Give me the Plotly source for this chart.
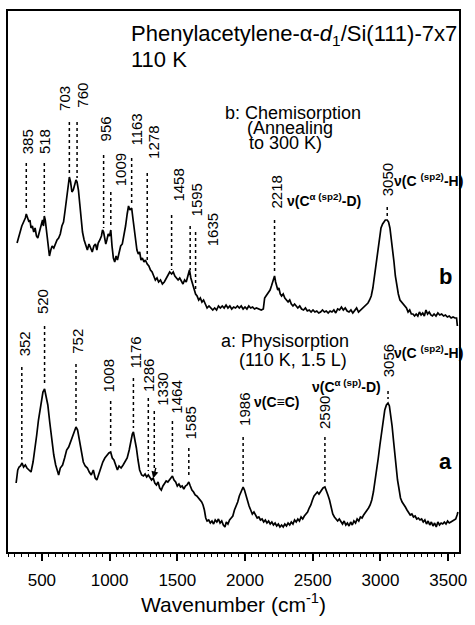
import numpy as np
import plotly.graph_objects as go

# ---------------- data ----------------
# b: Chemisorption (annealing to 300 K)  -- wavenumber (cm-1), intensity (arb.)
b_wn = [317, 330, 340, 352, 365, 378, 385, 395, 405, 412, 420, 430, 440, 450, 460, 470, 478, 488, 498, 505,
        512, 518, 525, 532, 540, 548, 556, 566, 576, 588, 600, 612, 624, 636, 648, 660, 672, 684, 694, 703,
        712, 722, 732, 742, 752, 760, 770, 780, 790, 800, 812, 824, 836, 848, 860, 872, 884, 896, 906, 916,
        928, 940, 948, 956, 964, 972, 980, 990, 1000, 1009, 1018, 1028, 1038, 1048, 1058, 1070, 1082, 1094, 1106, 1118,
        1130, 1140, 1150, 1163, 1172, 1182, 1192, 1202, 1212, 1222, 1232, 1242, 1254, 1264, 1278, 1290, 1302, 1314, 1326, 1338,
        1350, 1362, 1376, 1390, 1404, 1418, 1430, 1444, 1458, 1470, 1482, 1494, 1506, 1518, 1530, 1542, 1554, 1566, 1578, 1590,
        1600, 1612, 1622, 1635, 1646, 1658, 1670, 1682, 1694, 1708, 1720, 1734, 1748, 1762, 1776, 1790, 1804, 1818, 1832, 1846,
        1860, 1874, 1888, 1902, 1916, 1930, 1944, 1958, 1972, 1986, 2000, 2014, 2028, 2042, 2056, 2070, 2084, 2100, 2120, 2135,
        2145, 2155, 2165, 2175, 2185, 2195, 2205, 2212, 2218, 2226, 2234, 2242, 2250, 2260, 2270, 2282, 2294, 2306, 2318, 2330,
        2342, 2354, 2366, 2378, 2390, 2404, 2418, 2432, 2446, 2460, 2474, 2488, 2502, 2516, 2530, 2544, 2558, 2572, 2586, 2600,
        2614, 2628, 2642, 2656, 2670, 2684, 2698, 2712, 2726, 2740, 2754, 2768, 2782, 2796, 2810, 2824, 2838, 2852, 2866, 2880,
        2894, 2908, 2920, 2932, 2944, 2956, 2968, 2980, 2992, 3004, 3016, 3026, 3036, 3050, 3060, 3070, 3080, 3090, 3100, 3110,
        3120, 3132, 3144, 3156, 3168, 3180, 3192, 3204, 3216, 3228, 3240, 3252, 3264, 3276, 3288, 3300, 3312, 3324, 3336, 3348,
        3360, 3372, 3384, 3396, 3410, 3424, 3438, 3452, 3466, 3480, 3494, 3508, 3522, 3536, 3550, 3562, 3568]
b_int = [317, 324, 330, 334, 338, 342, 346, 342, 338, 340, 332, 334, 328, 332, 324, 322, 326, 332, 336, 340,
         334, 344, 340, 332, 324, 310, 304, 310, 314, 312, 316, 320, 322, 326, 334, 338, 350, 364, 374, 383,
         378, 368, 370, 376, 380, 378, 370, 356, 342, 328, 320, 314, 310, 316, 312, 308, 314, 316, 310, 317,
         320, 324, 330, 328, 322, 316, 320, 326, 324, 330, 314, 302, 298, 304, 300, 308, 314, 316, 324, 334,
         346, 354, 350, 352, 342, 330, 316, 310, 306, 308, 300, 302, 298, 300, 296, 294, 290, 288, 284, 280,
         282, 278, 280, 276, 278, 282, 284, 288, 286, 288, 284, 282, 280, 282, 278, 276, 280, 278, 284, 290,
         282, 276, 270, 266, 264, 260, 262, 258, 260, 256, 252, 254, 252, 250, 252, 250, 254, 252, 254, 252,
         255, 252, 254, 251, 253, 252, 254, 252, 254, 251, 253, 251, 254, 252, 253, 251, 252, 251, 250, 251,
         262, 264, 266, 268, 270, 274, 278, 282, 284, 278, 272, 270, 272, 266, 264, 266, 262, 260, 258, 260,
         256, 254, 256, 254, 252, 254, 251, 250, 252, 249, 250, 248, 250, 248, 249, 247, 248, 250, 248, 249,
         247, 249, 248, 250, 247, 251, 250, 253, 250, 252, 249, 248, 250, 247, 249, 252, 248, 250, 251, 253,
         255, 257, 260, 264, 272, 284, 298, 312, 324, 332, 336, 338, 340, 340, 338, 332, 322, 310, 298, 284,
         274, 266, 260, 258, 256, 254, 252, 248, 250, 246, 246, 244, 246, 244, 248, 245, 247, 244, 250, 246,
         248, 245, 244, 246, 244, 247, 245, 246, 244, 245, 243, 244, 242, 243, 242, 242, 234]

# a: Physisorption (110 K, 1.5 L)
a_wn = [310, 322, 332, 342, 354, 365, 378, 390, 405, 420, 435, 449, 462, 475, 485, 497, 508, 520, 530, 544,
        558, 573, 588, 602, 614, 624, 636, 653, 668, 683, 698, 712, 726, 740, 752, 764, 778, 792, 806, 820,
        836, 850, 865, 880, 894, 906, 920, 935, 950, 965, 980, 995, 1008, 1020, 1032, 1045, 1058, 1070, 1085, 1100,
        1115, 1130, 1145, 1158, 1168, 1176, 1186, 1198, 1210, 1222, 1237, 1250, 1262, 1274, 1286, 1298, 1310, 1322, 1334, 1346,
        1358, 1370, 1382, 1394, 1406, 1418, 1430, 1442, 1454, 1464, 1476, 1488, 1500, 1512, 1524, 1536, 1548, 1560, 1572, 1585,
        1596, 1608, 1620, 1632, 1644, 1656, 1668, 1680, 1690, 1700, 1710, 1720, 1732, 1744, 1756, 1768, 1780, 1792, 1804, 1816,
        1828, 1840, 1852, 1862, 1874, 1886, 1898, 1910, 1922, 1934, 1946, 1958, 1968, 1978, 1986, 1996, 2006, 2018, 2030, 2042,
        2054, 2066, 2078, 2090, 2102, 2114, 2126, 2138, 2150, 2162, 2174, 2186, 2198, 2210, 2222, 2234, 2246, 2258, 2270, 2282,
        2294, 2306, 2318, 2330, 2342, 2354, 2366, 2378, 2390, 2402, 2414, 2426, 2438, 2450, 2462, 2474, 2486, 2498, 2510, 2522,
        2534, 2546, 2556, 2566, 2576, 2590, 2600, 2612, 2624, 2636, 2648, 2660, 2672, 2684, 2696, 2708, 2720, 2732, 2744, 2756,
        2768, 2780, 2792, 2804, 2816, 2828, 2840, 2852, 2864, 2876, 2888, 2900, 2912, 2924, 2936, 2948, 2960, 2972, 2984, 2996,
        3008, 3020, 3032, 3044, 3056, 3066, 3076, 3086, 3096, 3106, 3116, 3126, 3136, 3148, 3160, 3172, 3184, 3196, 3208, 3220,
        3232, 3244, 3256, 3268, 3280, 3292, 3304, 3316, 3328, 3340, 3352, 3364, 3376, 3388, 3400, 3412, 3424, 3436, 3448, 3460,
        3472, 3484, 3496, 3508, 3520, 3532, 3544, 3556, 3566, 3572]
a_int = [77, 90, 93, 94, 97, 93, 95, 92, 90, 88, 98, 110, 125, 140, 150, 162, 168, 171, 164, 155,
         138, 120, 105, 95, 90, 85, 92, 95, 102, 110, 113, 118, 124, 128, 133, 130, 120, 108, 98, 94,
         92, 88, 85, 90, 82, 80, 86, 92, 98, 102, 105, 107, 108, 102, 100, 94, 90, 94, 92, 95,
         98, 102, 110, 120, 126, 128, 122, 112, 100, 90, 85, 84, 86, 83, 85, 82, 80, 82, 77, 75,
         78, 72, 70, 74, 76, 79, 78, 80, 82, 84, 80, 78, 74, 76, 73, 74, 71, 74, 75, 78,
         74, 70, 68, 65, 64, 62, 60, 58, 55, 50, 42, 39, 40, 37, 39, 36, 40, 38, 41, 37,
         39, 35, 33, 38, 36, 40, 42, 44, 50, 54, 58, 64, 68, 72, 73, 70, 65, 60, 54, 50,
         46, 48, 44, 42, 43, 40, 41, 38, 40, 37, 39, 36, 38, 35, 37, 34, 36, 33, 35, 33,
         36, 34, 37, 35, 38, 36, 40, 38, 41, 39, 43, 41, 44, 46, 48, 52, 55, 60, 64, 66,
         68, 66, 68, 70, 72, 73, 70, 65, 60, 52, 46, 43, 41, 39, 41, 38, 36, 39, 35, 37,
         34, 38, 35, 39, 37, 41, 39, 43, 42, 45, 47, 50, 52, 55, 60, 68, 78, 90, 102, 115,
         128, 140, 150, 155, 157, 154, 146, 134, 120, 105, 92, 80, 72, 62, 58, 56, 53, 50, 48, 45,
         46, 43, 44, 41, 42, 40, 41, 38, 40, 36, 39, 35, 38, 34, 37, 33, 38, 35, 37, 36,
         38, 36, 39, 37, 38, 39, 40, 41, 45, 48]

# peak labels (cm-1)
b_peaks = [385, 518, 703, 760, 956, 1009, 1163, 1278, 1458, 1595, 1635, 2218, 3050]
a_peaks = [352, 520, 752, 1008, 1176, 1286, 1330, 1464, 1585, 1986, 2590, 3056]
x_ticks = [500, 1000, 1500, 2000, 2500, 3000, 3500]

# ---------------- layout helpers (pixel positions of labels) ----------------
L, R, T, B = 8, 464, 11, 552          # plot frame in pixels
YOFF = 560                            # intensity = YOFF - pixel row
def px(xp):
    return (xp - L) / (R - L)
def py(yp):
    return (B - yp) / (B - T)

# label centre x (px), label bottom (px), line top (px)
b_lab_pos = [(28, 156, 163), (45, 156, 163), (65, 113, 122), (83, 110, 122), (107, 143, 155),
             (122, 188, 192), (137, 148, 158), (155, 161, 173), (180, 204, 215), (199, 218, 226),
             (215, 248, 232), (279, 211, 220), (392, 198, 207)]
a_lab_pos = [(25, 358, 367), (43, 316, 326), (78, 356, 364), (110, 394, 401), (136, 371, 378),
             (150, 394, 398), (164, 408, 411), (178, 416, 421), (193, 441, 448), (247, 428, 437),
             (328, 431, 437), (393, 379, 391)]

FONT = "Liberation Sans, Arial, Helvetica, sans-serif"

fig = go.Figure()
fig.add_trace(go.Scatter(x=b_wn, y=b_int, mode="lines", line=dict(color="black", width=1.7),
                         showlegend=False, hoverinfo="skip"))
fig.add_trace(go.Scatter(x=a_wn, y=a_int, mode="lines", line=dict(color="black", width=1.7),
                         showlegend=False, hoverinfo="skip"))

shapes = []
annotations = []

def add_labels(peaks, pos, xs, ys, arrow_peak=None):
    for wn, (lx, lb, lt) in zip(peaks, pos):
        yspec = float(np.interp(wn, xs, ys))
        ybot = yspec + 4
        if wn == arrow_peak:
            ybot = yspec + 13
        shapes.append(dict(type="line", xref="x", yref="y", x0=wn, x1=wn,
                           y0=YOFF - lt, y1=ybot,
                           line=dict(color="black", width=1.5, dash="dot")))
        annotations.append(dict(xref="paper", yref="paper", x=px(lx), y=py(lb),
                                text=str(wn), textangle=-90, showarrow=False,
                                xanchor="center", yanchor="bottom",
                                font=dict(size=15, family=FONT, color="black")))
        if wn == arrow_peak:
            annotations.append(dict(xref="x", yref="y", x=wn - 8, y=yspec + 3, ax=3, ay=-12,
                                    text="", showarrow=True, arrowhead=2, arrowsize=1,
                                    arrowwidth=1.4, arrowcolor="black"))

add_labels(b_peaks, b_lab_pos, b_wn, b_int)
add_labels(a_peaks, a_lab_pos, a_wn, a_int, arrow_peak=1330)

def txt(x, y, s, size, anchor="left"):
    annotations.append(dict(xref="paper", yref="paper", x=px(x), y=py(y), text=s,
                            showarrow=False, xanchor=anchor, yanchor="middle", borderpad=0,
                            font=dict(size=size, family=FONT, color="black")))

txt(131, 35, "Phenylacetylene-α-<i>d</i><sub>1</sub>/Si(111)-7x7", 22)
txt(131, 59, "110 K", 22)
txt(226, 113, "b: Chemisorption", 18)
txt(249, 128, "(Annealing", 18)
txt(251, 143, "to 300 K)", 18)
txt(222, 341, "a: Physisorption", 18)
txt(241, 360, "(110 K, 1.5 L)", 18)
txt(450, 276, "<b>b</b>", 22, anchor="center")
txt(450, 461, "<b>a</b>", 22, anchor="center")
txt(289, 200, "<b>ν(C<sup>α (sp2)</sup>-D)</b>", 14)
txt(397, 180, "<b>ν(C <sup>(sp2)</sup>-H)</b>", 14)
txt(256, 402, "<b>ν(C≡C)</b>", 14)
txt(314, 386, "<b>ν(C<sup>α (sp)</sup>-D)</b>", 14)
txt(397, 352, "<b>ν(C <sup>(sp2)</sup>-H)</b>", 14)

fig.update_layout(
    width=475, height=625,
    margin=dict(l=L, r=475 - R, t=T, b=625 - B),
    paper_bgcolor="white", plot_bgcolor="white",
    font=dict(family=FONT, color="black"),
    shapes=shapes, annotations=annotations,
    xaxis=dict(range=[250, 3580], showline=True, linewidth=2, linecolor="black", mirror=True,
               ticks="outside", ticklen=7, tickwidth=1.5, tickcolor="black",
               tickvals=x_ticks, ticktext=[str(v) for v in x_ticks],
               tickfont=dict(size=17, family=FONT), ticklabelstandoff=5,
               minor=dict(ticks="outside", dtick=50, tick0=0, ticklen=3, tickwidth=1, tickcolor="black"),
               showgrid=False, zeroline=False,
               title=dict(text="Wavenumber (cm<sup>-1</sup>)", font=dict(size=21, family=FONT), standoff=8)),
    yaxis=dict(range=[YOFF - B, YOFF - T], showline=True, linewidth=2, linecolor="black", mirror=True,
               showticklabels=False, ticks="", showgrid=False, zeroline=False),
)

fig.write_html("out.html")
